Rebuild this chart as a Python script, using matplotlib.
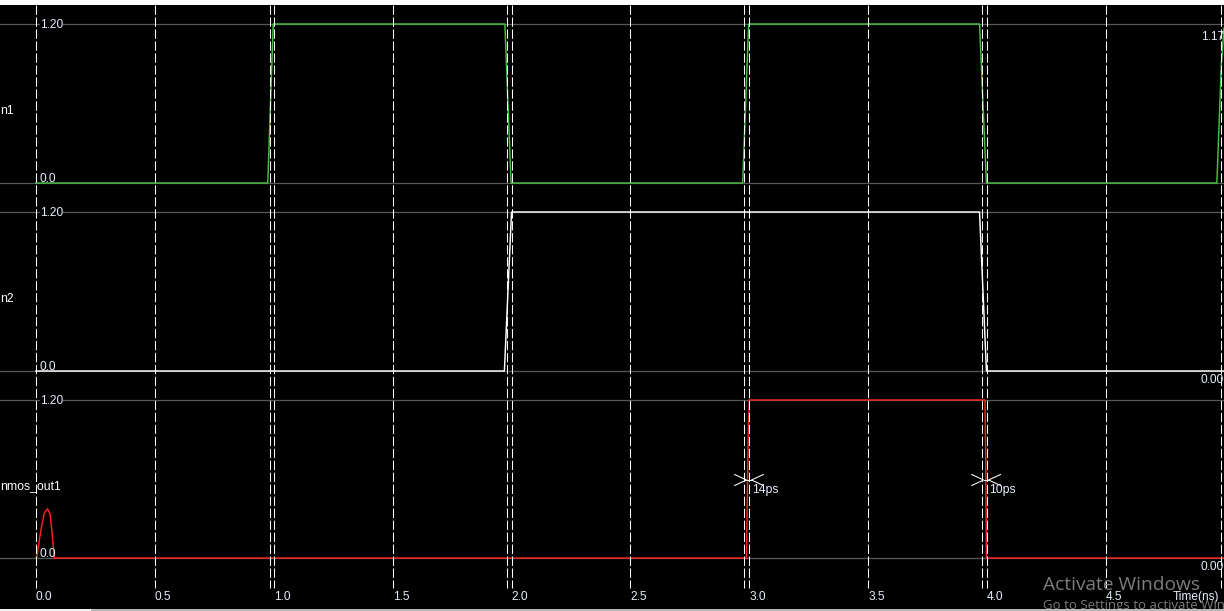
import matplotlib
matplotlib.use('Agg')
import matplotlib.pyplot as plt
from matplotlib.patches import Rectangle

# ---------------- data ----------------
signal_names = ["n1", "n2", "nmos_out1"]
signal_colors = ["#46c046", "#ffffff", "#ff2020"]

in1_t = [0.0, 0.975, 0.998, 1.972, 1.998, 2.972, 2.997, 3.968, 3.997, 4.966, 4.985, 4.996]
in1_v = [0.0, 0.0, 1.2, 1.2, 0.0, 0.0, 1.2, 1.2, 0.0, 0.0, 0.9, 1.17]

in2_t = [0.0, 1.970, 2.000, 3.968, 3.997, 4.996]
in2_v = [0.0, 0.0, 1.2, 1.2, 0.0, 0.0]

out_t = [0.0, 0.003, 0.020, 0.035, 0.049, 0.060, 0.070, 0.077,
         2.988, 2.991, 2.996, 3.000, 3.991, 3.994, 3.997, 4.996]
out_v = [0.0, 0.0, 0.20, 0.34, 0.375, 0.33, 0.15, 0.0,
         0.0, 0.40, 1.00, 1.2, 1.2, 0.75, 0.0, 0.0]

signals_t = [in1_t, in2_t, out_t]
signals_v = [in1_v, in2_v, out_v]

ytick_top = "1.20"
ytick_bot = "0.0"
right_values = ["1.17", "0.00", "0.00"]

xticks = [0.0, 0.5, 1.0, 1.5, 2.0, 2.5, 3.0, 3.5, 4.0, 4.5]
xtick_labels = ["0.0", "0.5", "1.0", "1.5", "2.0", "2.5", "3.0", "3.5", "4.0", "4.5"]
cursor_lines = [0.983, 1.979, 2.979, 3.980, 4.983]

# delay measurement markers: (left tip, right tip, label)
delay_marks = [(2.988, 3.009, "14ps"), (3.985, 4.006, "10ps")]

# ---------------- layout ----------------
W, H = 1224, 611
XMIN, XMAX = -0.151, 4.996
rows_px = [(24, 183), (212, 371), (400, 558)]   # pixel rows of 1.20 and 0.0
TEXT = "#e8eeff"
GRID = "#585858"
FONT = ['Liberation Sans', 'DejaVu Sans']
FS = 8.6
plt.rcParams['font.family'] = FONT

fig = plt.figure(figsize=(W / 100, H / 100), dpi=100, facecolor='black')

def fx(px):
    return px / W

def fy(py):
    return 1 - py / H

bg = fig.add_axes([0, 0, 1, 1], facecolor='black')
bg.set_xlim(XMIN, XMAX)
bg.set_ylim(H, 0)
bg.axis('off')

for r, (y12, y0) in enumerate(rows_px):
    ax = fig.add_axes([0, fy(y0), 1, (y0 - y12) / H])
    ax.set_facecolor('none')
    ax.set_xlim(XMIN, XMAX)
    ax.set_ylim(0, 1.2)
    ax.axis('off')
    ax.axhline(0, color=GRID, lw=0.9, zorder=1, clip_on=False)
    ax.axhline(1.2, color=GRID, lw=0.9, zorder=1, clip_on=False)
    ax.plot(signals_t[r], signals_v[r], color=signal_colors[r], lw=1.05,
            zorder=2, clip_on=False)
    fig.text(fx(40), fy(y12 + 0.5), ytick_top, color=TEXT, fontsize=FS,
             va='center', ha='left', zorder=6,
             bbox=dict(facecolor='black', edgecolor='none', pad=0.3))
    fig.text(fx(40), fy(y0 - 4), ytick_bot, color=TEXT, fontsize=FS,
             va='center', ha='left', zorder=6)
    fig.text(fx(0), fy((y12 + y0) / 2 + 7), signal_names[r], color='white',
             fontsize=FS + 0.2, va='center', ha='left', zorder=6)
    fig.text(fx(1224), fy(y0 + 9) if r > 0 else fy(y12 + 13), right_values[r],
             color=TEXT, fontsize=FS, va='center', ha='right', zorder=6)

ov = fig.add_axes([0, 0, 1, 1])
ov.set_facecolor('none')
ov.set_xlim(XMIN, XMAX)
ov.set_ylim(H, 0)
ov.axis('off')
ov.set_zorder(5)

for xv in xticks + cursor_lines:
    ov.plot([xv, xv], [5, 588], color='white', lw=0.75,
            linestyle=(0, (9, 2.5)), zorder=3)

for xv, lab in zip(xticks, xtick_labels):
    ov.text(xv, 597, lab, color=TEXT, fontsize=FS, ha='left', va='center')
ov.text(1173 / W * (XMAX - XMIN) + XMIN, 597, "Time(ns)", color=TEXT,
        fontsize=FS, ha='left', va='center')

arm = 0.05
for lt, rt, lab in delay_marks:
    ym = 480
    ov.plot([lt - arm, lt, lt - arm], [ym - 5.5, ym, ym + 5.5], color='white', lw=0.75, zorder=4)
    ov.plot([lt, rt], [ym, ym], color='white', lw=0.75, zorder=4)
    ov.plot([rt + arm, rt, rt + arm], [ym - 5.5, ym, ym + 5.5], color='white', lw=0.75, zorder=4)
    ov.text(rt + 0.003, 490, lab, color=TEXT, fontsize=FS + 0.2, ha='left', va='center', zorder=4)

# Windows watermark
fig.text(fx(1043), fy(585), "Activate Windows", color='#7c7c7c', fontsize=13.8,
         family=['Open Sans', 'DejaVu Sans'], ha='left', va='center', zorder=7)
fig.text(fx(1043), fy(606), "Go to Settings to activate Windows.", color='#7c7c7c',
         fontsize=9.5, family=['Open Sans', 'DejaVu Sans'], ha='left', va='center', zorder=7)

# window chrome strips
fig.add_artist(Rectangle((0, fy(5)), 1, 5 / H, transform=fig.transFigure,
                         facecolor='white', edgecolor='none', zorder=8))
fig.add_artist(Rectangle((0, 0), fx(91), 2 / H, transform=fig.transFigure,
                         facecolor='#f0f0f0', edgecolor='none', zorder=8))
fig.add_artist(Rectangle((fx(91), 0), 1, 2 / H, transform=fig.transFigure,
                         facecolor='#b8b8b8', edgecolor='none', zorder=8))

fig.savefig('out.png', dpi=100, facecolor='black')
